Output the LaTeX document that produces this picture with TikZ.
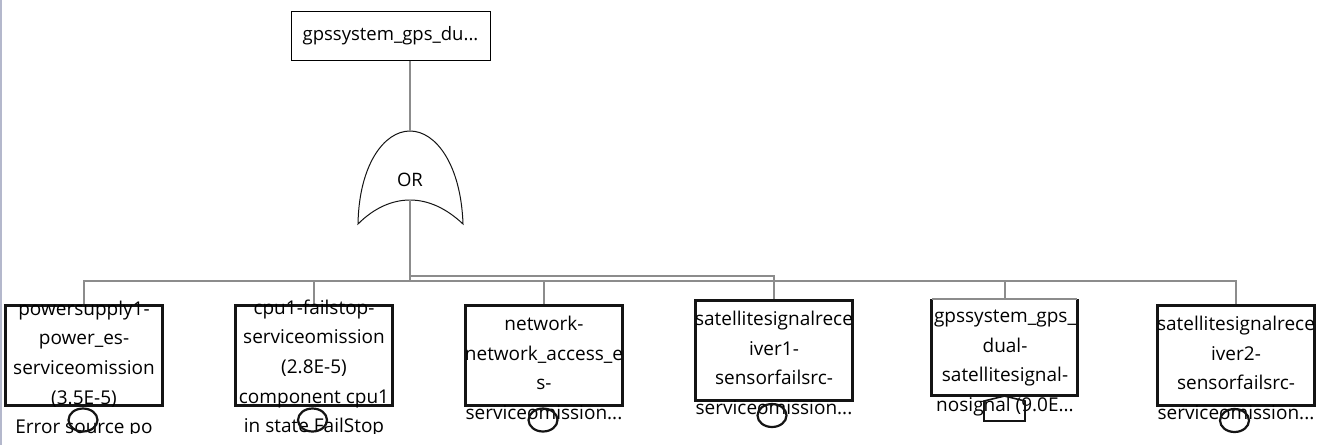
\documentclass[tikz,border=0pt]{standalone}
\usepackage{fontspec}
\setmainfont{Open Sans}
\usetikzlibrary{shapes.geometric}
\definecolor{conngray}{HTML}{8C8C8C}
\definecolor{edgegray}{HTML}{B4B8CC}
\definecolor{ink}{HTML}{141414}
\tikzset{
  conn/.style={draw=conngray, line width=2pt},
  evbox/.style={draw=ink, line width=3pt, rectangle, inner sep=0pt, minimum width=157pt, minimum height=100pt},
  evtext/.style={align=center, text=black, inner sep=0pt, font=\fontsize{19}{29.6}\selectfont},
  basic/.style={draw=ink, line width=2.2pt, ellipse, inner sep=0pt, minimum width=29pt, minimum height=23pt},
  topbox/.style={draw=black, line width=1pt, rectangle, inner sep=0pt, minimum width=199pt, minimum height=49pt, font=\fontsize{18.5}{20}\selectfont, text=black},
}
\begin{document}
\begin{tikzpicture}[x=1pt, y=-1pt]
\useasboundingbox (0,0) rectangle (1335,445);
\fill[white] (0,0) rectangle (1335,445);
\draw[edgegray, line width=1.5pt] (0.75,0) -- (0.75,445);

% top event
\node[topbox] (top) at (390.5,35.5) {gpssystem\_gps\_du...};

% OR gate
\coordinate (gtop) at (410,131);
\coordinate (gbot) at (410,200);
\draw[ink, line width=1pt] (358,224) .. controls (359,165) and (384,131) .. (gtop)
  .. controls (436,131) and (461,165) .. (463,224)
  .. controls (446,208) and (428,200) .. (gbot)
  .. controls (392,200) and (374,208) .. (358,224) -- cycle;
\node[text=black, font=\fontsize{18.5}{20}\selectfont] (gate) at (410,180) {OR};

\draw[conn] (gtop |- top.south) -- (gtop);

% event boxes
\node[evbox] (b1) at (84,355.5) {};
\node[evbox] (b2) at (314,355.5) {};
\node[evbox] (b3) at (544,355.5) {};
\node[evbox] (b4) at (774,350.5) {};
\node[rectangle, inner sep=0pt, minimum width=145pt, minimum height=96pt] (b5) at (1004.5,347) {};
\draw[ink, line width=3pt] (b5.north west) -- (b5.south west) -- (b5.south east) -- (b5.north east);
\draw[conngray, line width=1.5pt] (b5.north west) -- (b5.north east);
\node[evbox] (b6) at (1236,355.5) {};

% connectors
\coordinate (bus) at (0,281);
\coordinate (busb) at (0,276);
\draw[conn] (gbot) -- (gbot |- bus) -| (b1.north);
\draw[conn] (gbot |- bus) -| (b2.north);
\draw[conn] (gbot |- bus) -| (b3.north);
\draw[conn] (gbot |- bus) -| (b5.north);
\draw[conn] (gbot |- bus) -| (b6.north);
\draw[conn] (gbot |- busb) -| (b4.north);

% texts
\begin{scope}
\clip (0,0) rectangle (1335,433);
\node[evtext] (t1) at (84,369.5) {powersupply1-\\power\_es-\\serviceomission\\(3.5E-5)\\Error source po};
\node[evtext] (t2) at (314,368.5) {cpu1-failstop-\\serviceomission\\(2.8E-5)\\component cpu1\\in state FailStop};
\node[evtext] (t3) at (544,368) {network-\\network\_access\_e\\s-\\serviceomission...};
\node[evtext] (t4) at (774,363) {satellitesignalrece\\iver1-\\sensorfailsrc-\\serviceomission...};
\node[evtext] (t5) at (1005,363) {gpssystem\_gps\_\\dual-\\satellitesignal-\\nosignal (9.0E...};
\node[evtext] (t6) at (1236,368) {satellitesignalrece\\iver2-\\sensorfailsrc-\\serviceomission...};
\end{scope}

% basic event / house markers
\node[basic] (c1) at (83,420) {};
\node[basic] (c2) at (312.5,420) {};
\node[basic] (c3) at (543,420) {};
\node[basic] (c4) at (772,415.5) {};
\node[basic] (c6) at (1234.5,420.5) {};
\draw[ink, line width=1.6pt] (984,421) -- (984,401) -- (1004.5,396) -- (1025,401) -- (1025,421) -- cycle;
\end{tikzpicture}
\end{document}
